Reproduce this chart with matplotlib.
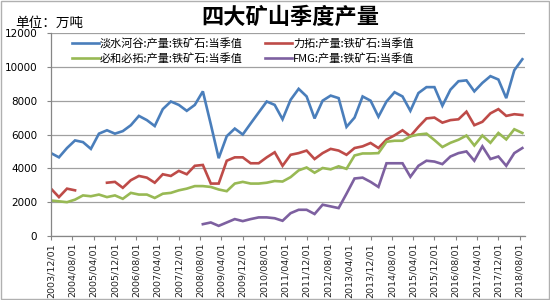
import numpy as np
import pandas as pd
import matplotlib
matplotlib.use("Agg")
from matplotlib import pyplot as plt
from matplotlib.patches import Rectangle

plt.rcParams['font.family'] = ['Noto Sans CJK SC', 'DejaVu Sans']

# quarterly dates, 2003/12 .. 2018/09
dates = pd.date_range("2003-12-01", periods=60, freq="3MS")
tick_dates = pd.date_range("2003-12-01", "2018-08-01", freq="8MS")
tick_labels = [d.strftime("%Y/%m/%d") for d in tick_dates]

series_names = ["淡水河谷:产量:铁矿石:当季值", "力拓:产量:铁矿石:当季值",
                "必和必拓:产量:铁矿石:当季值", "FMG:产量:铁矿石:当季值"]

vale = [4900, 4650, 5200, 5650, 5550, 5150, 6050, 6250, 6050, 6200,
        6550, 7100, 6850, 6500, 7500, 7950, 7750, 7400, 7750, 8550,
        6600, 4600, 5900, 6350, 6000, 6650, 7300, 7950, 7750, 6900,
        8050, 8700, 8250, 6950, 8000, 8300, 8150, 6450, 7000, 8250,
        8000, 7050, 7950, 8500, 8250, 7400, 8450, 8800, 8800, 7700,
        8650, 9150, 9200, 8550, 9050, 9450, 9250, 8150, 9800, 10450]

rio = [2800, 2300, 2800, 2700, np.nan, np.nan, np.nan, 3150, 3200, 2850,
       3300, 3550, 3450, 3150, 3650, 3550, 3850, 3650, 4150, 4200,
       3100, 3100, 4450, 4650, 4650, 4300, 4300, 4650, 4950, 4150,
       4800, 4900, 5050, 4550, 4900, 5150, 5050, 4800, 5200, 5300,
       5500, 5200, 5700, 5950, 6250, 5900, 6450, 6950, 7000, 6700,
       6850, 6900, 7350, 6550, 6750, 7250, 7500, 7100, 7200, 7150]

bhp = [2100, 2050, 2000, 2150, 2400, 2350, 2450, 2300, 2400, 2200,
       2550, 2450, 2450, 2250, 2500, 2550, 2700, 2800, 2950, 2950,
       2900, 2750, 2650, 3100, 3200, 3100, 3100, 3150, 3250, 3220,
       3480, 3880, 4050, 3740, 4020, 3940, 4120, 3970, 4760, 4880,
       4880, 4900, 5570, 5630, 5630, 5890, 6000, 6050, 5670, 5260,
       5510, 5690, 5940, 5350, 5940, 5510, 6090, 5710, 6310, 6090]

fmg = [np.nan] * 19 + [
    700, 800, 600, 800, 1000, 880, 1000, 1100, 1100, 1050,
    900, 1350, 1550, 1550, 1300, 1850, 1750, 1650, 2500, 3400,
    3450, 3200, 2900, 4300, 4300, 4300, 3500, 4150, 4450, 4400,
    4250, 4700, 4900, 5000, 4450, 5300, 4550, 4700, 4150, 4900,
    5200]

colors = ["#4a7ebb", "#be4b48", "#98b954", "#7d60a0"]

fig = plt.figure(figsize=(5.5, 3), dpi=100)
ax = fig.add_axes([0.0927, 0.2133, 0.8618, 0.6767])

lines = []
for vals, name, c in zip([vale, rio, bhp, fmg], series_names, colors):
    ln, = ax.plot(dates, vals, color=c, lw=1.9, label=name,
                  solid_joinstyle="miter")
    lines.append(ln)

ax.set_ylim(0, 12000)
ax.set_yticks(range(0, 12001, 2000))
ax.set_xlim(pd.Timestamp("2003-12-01"), pd.Timestamp("2018-10-01"))
ax.set_xticks(tick_dates)
ax.set_xticklabels(tick_labels, rotation=90, fontsize=6.8, family="DejaVu Sans",
                   color="#222222")
for t in ax.get_yticklabels():
    t.set_family("DejaVu Sans")
ax.tick_params(axis="y", labelsize=7.5, length=3, pad=7, color="#868686")
ax.tick_params(axis="x", length=3, pad=2, color="#868686")
ax.grid(axis="y", color="#a0a0a0", lw=0.9)
ax.set_axisbelow(True)
for s in ["top", "right"]:
    ax.spines[s].set_visible(False)
for s in ["left", "bottom"]:
    ax.spines[s].set_color("#868686")
    ax.spines[s].set_linewidth(0.9)

# excel fills the legend row by row
order = [0, 2, 1, 3]
leg = ax.legend([lines[i] for i in order], [series_names[i] for i in order],
                ncol=2, loc="upper left", bbox_to_anchor=(0.045, 0.975),
                frameon=False, fontsize=8, handlelength=2.4,
                handletextpad=0.1, columnspacing=2.0, labelspacing=0.35,
                borderpad=0, borderaxespad=0)

fig.text(0.527, 0.943, "四大矿山季度产量", ha="center", va="center",
         fontsize=16, fontweight="bold")
fig.text(0.027, 0.925, "单位：万吨", ha="left", va="center", fontsize=9.8)

fig.patches.append(Rectangle((0.001, 0.002), 0.997, 0.995, transform=fig.transFigure,
                             fill=False, edgecolor="#b0b0b0", lw=1))

fig.savefig("out.png", dpi=100)
